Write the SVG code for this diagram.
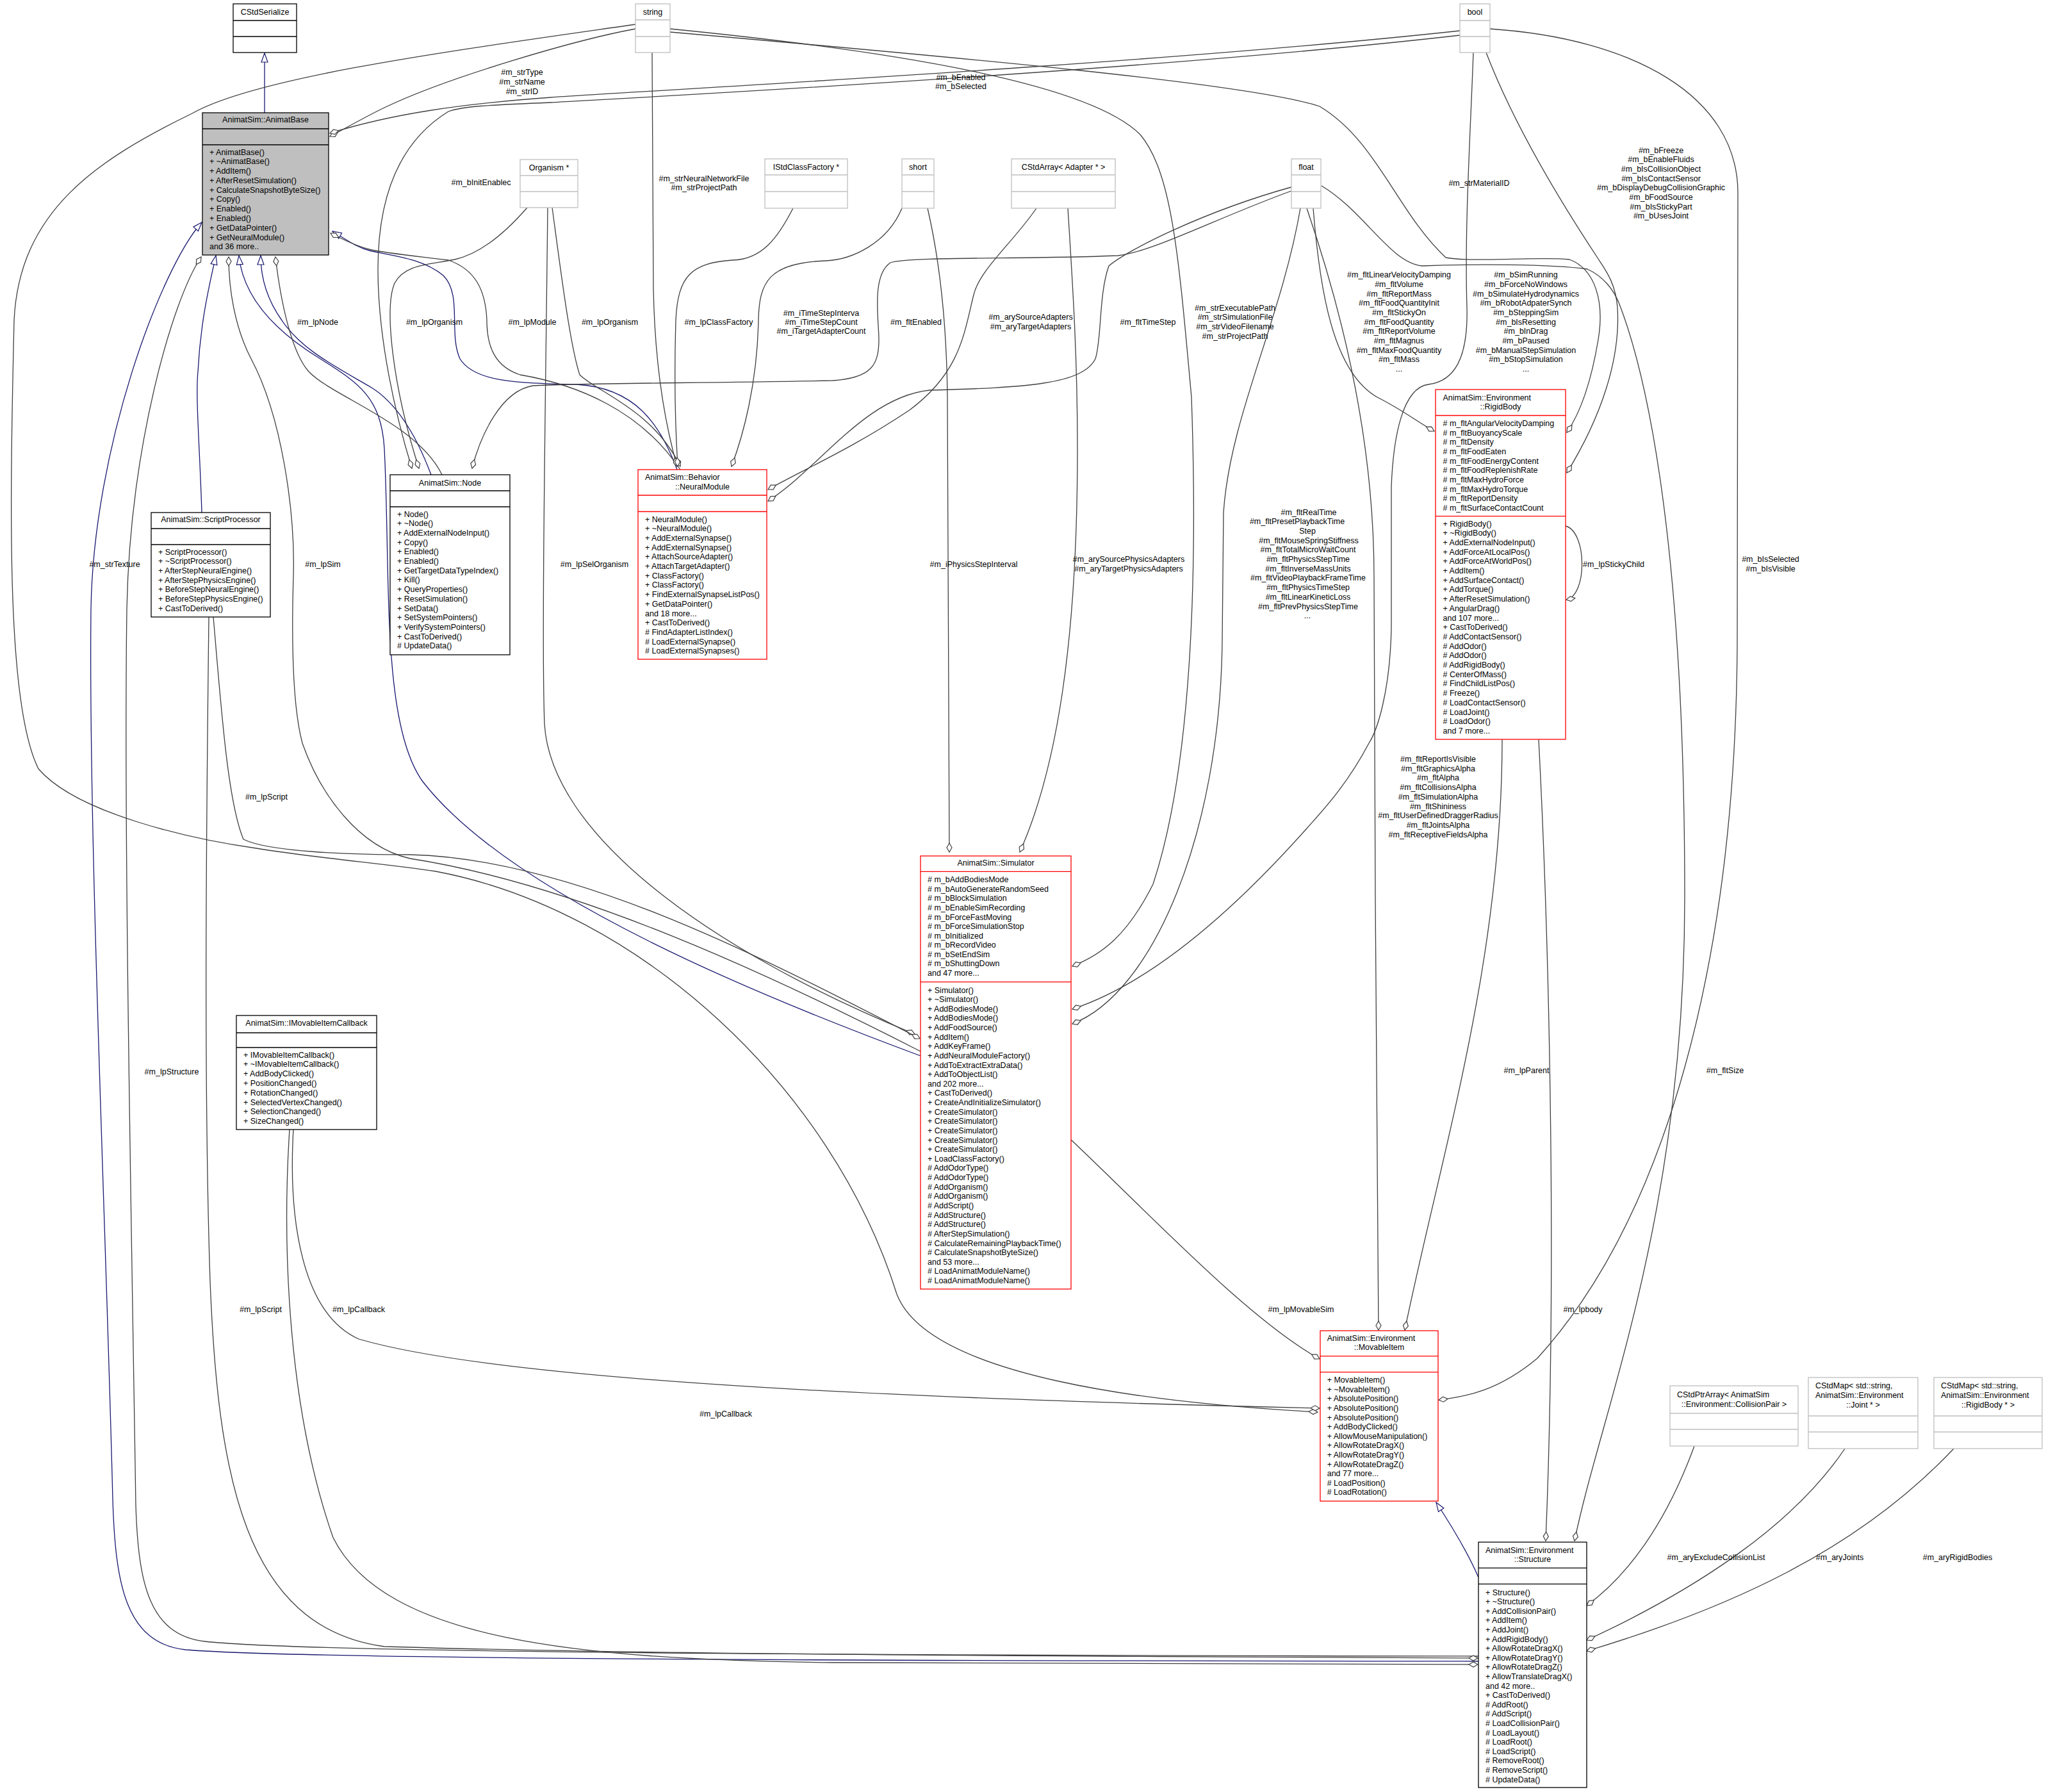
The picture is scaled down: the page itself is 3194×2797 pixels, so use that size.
<svg xmlns="http://www.w3.org/2000/svg" width="3194" height="2797" viewBox="0 0 3194 2797">
<style>
.bx{fill:#fff;stroke:#000;stroke-width:1.3}
.rd{fill:#fff;stroke:#ff0000;stroke-width:1.3}
.gy{fill:#fff;stroke:#bfbfbf;stroke-width:1.3}
.hl{fill:#bfbfbf;stroke:#000;stroke-width:1.3}
.sk{stroke:#000;stroke-width:1.3}
.sr{stroke:#ff0000;stroke-width:1.3}
.sg{stroke:#bfbfbf;stroke-width:1.3}
text{font-family:"Liberation Sans",Arial,sans-serif;font-size:12.5px;fill:#000}
.c{text-anchor:middle}
.e{fill:none;stroke:#404040;stroke-width:1.3;marker-end:url(#dia)}
.ep{fill:none;stroke:#404040;stroke-width:1.3}
.i{fill:none;stroke:#191970;stroke-width:1.3;marker-end:url(#tri)}
</style>
<defs>
<marker id="dia" markerUnits="userSpaceOnUse" markerWidth="16" markerHeight="10" viewBox="0 -5 16 10" refX="15" refY="0" orient="auto"><path d="M1,0 L8,-4 L15,0 L8,4 Z" fill="#fff" stroke="#404040" stroke-width="1.2"/></marker>
<marker id="tri" markerUnits="userSpaceOnUse" markerWidth="16" markerHeight="12" viewBox="0 -6 16 12" refX="15" refY="0" orient="auto"><path d="M1,-5 L15,0 L1,5 Z" fill="#fff" stroke="#191970" stroke-width="1.2"/></marker>
</defs>
<rect width="3194" height="2797" fill="#fff"/>

<g id="connectors">
<path class="i" d="M413,176 L413,83"/>
<path class="i" d="M315,800 C312,700 305,620 309,580 C313,500 328,440 337,399"/>
<path class="i" d="M2308,2593 C1600,2592 500,2592 290,2575 C195,2565 180,2470 176,2340 C165,1900 138,1300 142,950 C146,700 250,420 315,347"/>
<path class="i" d="M673,741 C650,680 620,630 580,605 C520,570 470,545 440,500 C415,465 407,430 407,399"/>
<path class="i" d="M1437,1648 C1200,1560 800,1400 660,1220 C595,1130 610,900 600,700 C595,620 560,598 500,560 C410,505 378,450 373,399"/>
<path class="i" d="M1057,733 C1030,660 990,605 900,600 C800,598 740,595 718,560 C700,520 722,460 692,430 C662,405 620,400 580,392 C555,386 538,372 519,361"/>
<path class="i" d="M2308,2462 C2290,2420 2265,2380 2242,2345"/>

<path class="e" d="M992,45 C900,62 700,120 600,168 C565,185 540,200 515,213"/>
<path class="e" d="M2279,48 C1800,100 1000,142 860,152 C720,162 610,178 515,208"/>
<path class="e" d="M2279,55 C1800,110 1000,152 860,160 C760,164 722,166 700,174 C622,222 590,310 590,420 C590,530 618,650 643,731"/>
<path class="e" d="M992,38 C700,80 400,120 300,177 C150,250 30,330 22,500 C15,800 10,1100 60,1200 C120,1270 300,1310 400,1324 C500,1340 600,1348 680,1360 C1000,1420 1300,1700 1400,2020 C1450,2150 1800,2190 2057,2204"/>
<path class="e" d="M2308,2585 C1600,2584 500,2582 320,2562 C232,2552 216,2470 212,2350 C205,1900 193,1300 198,950 C203,700 268,470 314,401"/>
<path class="e" d="M1437,1641 C1200,1520 900,1380 640,1340 C560,1322 500,1240 472,1160 C456,1100 455,1000 458,900 C461,800 440,650 392,560 C366,510 357,450 357,401"/>
<path class="e" d="M690,741 C650,660 520,620 482,580 C455,550 438,470 430,401"/>
<path class="e" d="M1062,733 C1000,640 900,600 812,585 C772,572 760,540 760,500 C758,450 740,420 700,406 C652,400 602,395 580,390 C556,384 536,374 516,364"/>
<path class="e" d="M823,324 C790,362 750,396 710,405 C670,413 632,412 616,442 C600,480 612,600 654,731"/>
<path class="e" d="M2016,298 C1900,340 1800,393 1745,399 C1600,405 1420,400 1390,410 C1360,430 1372,500 1372,530 C1372,570 1360,590 1300,594 C1100,598 900,598 832,602 C782,610 750,680 737,731"/>
<path class="e" d="M855,324 C852,600 845,1000 850,1130 C860,1300 1100,1480 1428,1614"/>
<path class="e" d="M862,324 C875,420 890,540 905,585 C932,612 1020,640 1062,728"/>
<path class="e" d="M1018,82 L1020,450 C1022,560 1035,650 1057,728"/>
<path class="e" d="M1238,325 C1215,370 1190,405 1144,406 C1080,410 1058,430 1055,500 C1052,600 1055,680 1058,728"/>
<path class="e" d="M1408,325 C1385,380 1330,405 1290,407 C1200,410 1185,440 1184,500 C1182,600 1160,680 1142,728"/>
<path class="e" d="M1448,325 C1470,420 1478,520 1479,620 C1480,900 1482,1200 1482,1330"/>
<path class="e" d="M1618,325 C1580,380 1530,420 1520,460 C1505,520 1500,580 1420,640 C1330,700 1260,730 1199,764"/>
<path class="e" d="M2016,292 C1880,330 1760,390 1731,415 C1715,460 1720,530 1710,560 C1690,600 1600,605 1451,609 C1350,620 1280,730 1199,782"/>
<path class="e" d="M1667,325 C1675,450 1682,560 1682,700 C1682,1000 1650,1200 1592,1330"/>
<path class="e" d="M1046,45 C1400,80 1700,130 1780,210 C1830,270 1840,400 1860,620 C1870,900 1860,1200 1800,1380 C1760,1460 1720,1490 1674,1508"/>
<path class="e" d="M2300,82 C2296,200 2286,350 2290,480 C2292,560 2270,595 2230,600 C2190,605 2175,680 2172,760 L2172,980 C2170,1080 2150,1140 2137,1160 C2100,1230 2060,1270 2040,1293 C1900,1450 1780,1540 1674,1575"/>
<path class="e" d="M2030,325 C2000,500 1920,650 1910,800 L1908,1000 C1905,1300 1800,1550 1674,1598"/>
<path class="e" d="M1046,50 C1500,90 1950,130 2060,166 C2150,220 2180,330 2257,402 C2300,410 2400,400 2450,405 C2490,420 2505,470 2495,530 C2485,590 2470,640 2446,675"/>
<path class="e" d="M2320,82 C2350,160 2400,260 2493,401 C2505,420 2522,440 2525,480 C2530,560 2500,650 2446,738"/>
<path class="e" d="M2050,325 C2060,450 2080,580 2150,620 C2190,640 2215,660 2239,673"/>
<path class="e" d="M2063,290 C2130,330 2170,410 2220,415 C2300,412 2420,412 2478,420 C2500,430 2520,450 2530,480 C2560,560 2630,800 2630,1400 C2630,1900 2500,2200 2458,2405"/>
<path class="e" d="M2040,325 C2100,500 2145,700 2145,900 L2147,1400 C2148,1700 2152,1900 2152,2076"/>
<path class="e" d="M2345,1154 C2345,1500 2250,1800 2193,2076"/>
<path class="e" d="M2402,1154 C2420,1500 2430,2000 2413,2405"/>
<path class="e" d="M2444,821 C2478,830 2478,930 2445,936"/>
<path class="e" d="M2326,45 C2550,60 2712,150 2713,300 L2712,1000 C2710,1500 2600,1900 2400,2120 C2340,2170 2290,2180 2246,2185"/>
<path class="e" d="M1672,1779 C1800,1900 1950,2060 2060,2121"/>
<path class="e" d="M458,1763 C450,1900 470,2050 560,2090 C800,2160 1500,2185 2060,2198"/>
<path class="e" d="M452,1763 C440,1950 450,2200 520,2400 C600,2560 900,2590 1300,2595 C1800,2598 2100,2597 2307,2598"/>
<path class="e" d="M326,963 C322,1300 318,1700 328,2000 C340,2300 380,2540 600,2570 C1100,2585 2000,2586 2307,2588"/>
<path class="e" d="M333,963 C345,1100 355,1250 380,1310 C420,1330 550,1334 640,1334 C900,1340 1200,1500 1436,1621"/>
<path class="e" d="M2645,2257 C2600,2380 2540,2460 2477,2506"/>
<path class="e" d="M2880,2261 C2800,2380 2650,2480 2477,2560"/>
<path class="e" d="M3050,2261 C2900,2420 2700,2510 2477,2577"/>

<text class="c" x="815" y="117">#m_strType</text>
<text class="c" x="815" y="132">#m_strName</text>
<text class="c" x="815" y="147">#m_strID</text>
<text class="c" x="1500" y="125">#m_bEnabled</text>
<text class="c" x="1500" y="139">#m_bSelected</text>
<text class="c" x="751" y="289">#m_bInitEnablec</text>
<text class="c" x="1099" y="283">#m_strNeuralNetworkFile</text>
<text class="c" x="1099" y="297">#m_strProjectPath</text>
<text class="c" x="496" y="507">#m_lpNode</text>
<text class="c" x="678" y="507">#m_lpOrganism</text>
<text class="c" x="831" y="507">#m_lpModule</text>
<text class="c" x="952" y="507">#m_lpOrganism</text>
<text class="c" x="1122" y="507">#m_lpClassFactory</text>
<text class="c" x="1282" y="493">#m_iTimeStepInterva</text>
<text class="c" x="1282" y="507">#m_iTimeStepCount</text>
<text class="c" x="1282" y="521">#m_iTargetAdapterCount</text>
<text class="c" x="1430" y="507">#m_fltEnabled</text>
<text class="c" x="1609" y="499">#m_arySourceAdapters</text>
<text class="c" x="1609" y="514">#m_aryTargetAdapters</text>
<text class="c" x="1792" y="507">#m_fltTimeStep</text>
<text class="c" x="1928" y="485">#m_strExecutablePath</text>
<text class="c" x="1928" y="499">#m_strSimulationFile</text>
<text class="c" x="1928" y="514">#m_strVideoFilename</text>
<text class="c" x="1928" y="529">#m_strProjectPath</text>
<text class="c" x="2309" y="290">#m_strMaterialID</text>
<text class="c" x="2593" y="239">#m_bFreeze</text>
<text class="c" x="2593" y="253">#m_bEnableFluids</text>
<text class="c" x="2593" y="268">#m_bIsCollisionObject</text>
<text class="c" x="2593" y="283">#m_bIsContactSensor</text>
<text class="c" x="2593" y="297">#m_bDisplayDebugCollisionGraphic</text>
<text class="c" x="2593" y="312">#m_bFoodSource</text>
<text class="c" x="2593" y="327">#m_bIsStickyPart</text>
<text class="c" x="2593" y="341">#m_bUsesJoint</text>
<text class="c" x="2382" y="433">#m_bSimRunning</text>
<text class="c" x="2382" y="448">#m_bForceNoWindows</text>
<text class="c" x="2382" y="463">#m_bSimulateHydrodynamics</text>
<text class="c" x="2382" y="477">#m_bRobotAdpaterSynch</text>
<text class="c" x="2382" y="492">#m_bSteppingSim</text>
<text class="c" x="2382" y="507">#m_bIsResetting</text>
<text class="c" x="2382" y="521">#m_bInDrag</text>
<text class="c" x="2382" y="536">#m_bPaused</text>
<text class="c" x="2382" y="551">#m_bManualStepSimulation</text>
<text class="c" x="2382" y="565">#m_bStopSimulation</text>
<text class="c" x="2382" y="580">...</text>
<text class="c" x="2184" y="433">#m_fltLinearVelocityDamping</text>
<text class="c" x="2184" y="448">#m_fltVolume</text>
<text class="c" x="2184" y="463">#m_fltReportMass</text>
<text class="c" x="2184" y="477">#m_fltFoodQuantityInit</text>
<text class="c" x="2184" y="492">#m_fltStickyOn</text>
<text class="c" x="2184" y="507">#m_fltFoodQuantity</text>
<text class="c" x="2184" y="521">#m_fltReportVolume</text>
<text class="c" x="2184" y="536">#m_fltMagnus</text>
<text class="c" x="2184" y="551">#m_fltMaxFoodQuantity</text>
<text class="c" x="2184" y="565">#m_fltMass</text>
<text class="c" x="2184" y="580">...</text>
<text class="c" x="2043" y="804">#m_fltRealTime</text>
<text class="c" x="2025" y="818">#m_fltPresetPlaybackTime</text>
<text class="c" x="2041" y="833">Step</text>
<text class="c" x="2043" y="848">#m_fltMouseSpringStiffness</text>
<text class="c" x="2042" y="862">#m_fltTotalMicroWaitCount</text>
<text class="c" x="2042" y="877">#m_fltPhysicsStepTime</text>
<text class="c" x="2042" y="892">#m_fltInverseMassUnits</text>
<text class="c" x="2042" y="906">#m_fltVideoPlaybackFrameTime</text>
<text class="c" x="2042" y="921">#m_fltPhysicsTimeStep</text>
<text class="c" x="2042" y="936">#m_fltLinearKineticLoss</text>
<text class="c" x="2042" y="951">#m_fltPrevPhysicsStepTime</text>
<text class="c" x="2041" y="965">...</text>
<text class="c" x="179" y="885">#m_strTexture</text>
<text class="c" x="504" y="885">#m_lpSim</text>
<text class="c" x="928" y="885">#m_lpSelOrganism</text>
<text class="c" x="1520" y="885">#m_iPhysicsStepInterval</text>
<text class="c" x="1762" y="877">#m_arySourcePhysicsAdapters</text>
<text class="c" x="1762" y="892">#m_aryTargetPhysicsAdapters</text>
<text class="c" x="2519" y="885">#m_lpStickyChild</text>
<text class="c" x="2764" y="877">#m_bIsSelected</text>
<text class="c" x="2764" y="892">#m_bIsVisible</text>
<text class="c" x="2245" y="1189">#m_fltReportIsVisible</text>
<text class="c" x="2245" y="1204">#m_fltGraphicsAlpha</text>
<text class="c" x="2245" y="1218">#m_fltAlpha</text>
<text class="c" x="2245" y="1233">#m_fltCollisionsAlpha</text>
<text class="c" x="2245" y="1248">#m_fltSimulationAlpha</text>
<text class="c" x="2245" y="1263">#m_fltShininess</text>
<text class="c" x="2245" y="1277">#m_fltUserDefinedDraggerRadius</text>
<text class="c" x="2245" y="1292">#m_fltJointsAlpha</text>
<text class="c" x="2245" y="1307">#m_fltReceptiveFieldsAlpha</text>
<text class="c" x="416" y="1248">#m_lpScript</text>
<text class="c" x="268" y="1677">#m_lpStructure</text>
<text class="c" x="2383" y="1675">#m_lpParent</text>
<text class="c" x="2693" y="1675">#m_fltSize</text>
<text class="c" x="407" y="2048">#m_lpScript</text>
<text class="c" x="560" y="2048">#m_lpCallback</text>
<text class="c" x="2031" y="2048">#m_lpMovableSim</text>
<text class="c" x="2471" y="2048">#m_lpbody</text>
<text class="c" x="1133" y="2211">#m_lpCallback</text>
<text class="c" x="2679" y="2435">#m_aryExcludeCollisionList</text>
<text class="c" x="2872" y="2435">#m_aryJoints</text>
<text class="c" x="3056" y="2435">#m_aryRigidBodies</text>
</g>

<g id="CStdSerialize">
<rect class="bx" x="364" y="6" width="99" height="76"/>
<line class="sk" x1="364" y1="32" x2="463" y2="32"/><line class="sk" x1="364" y1="57" x2="463" y2="57"/>
<text class="c" x="413.5" y="23">CStdSerialize</text>
</g>

<g id="AnimatBase">
<rect class="hl" x="316" y="176" width="197" height="222"/>
<line class="sk" x1="316" y1="201" x2="513" y2="201"/><line class="sk" x1="316" y1="226" x2="513" y2="226"/>
<text class="c" x="414.5" y="191">AnimatSim::AnimatBase</text>
<text x="327" y="241.6"><tspan x="327" dy="0">+ AnimatBase()</tspan><tspan x="327" dy="14.77">+ ~AnimatBase()</tspan><tspan x="327" dy="14.77">+ AddItem()</tspan><tspan x="327" dy="14.77">+ AfterResetSimulation()</tspan><tspan x="327" dy="14.77">+ CalculateSnapshotByteSize()</tspan><tspan x="327" dy="14.77">+ Copy()</tspan><tspan x="327" dy="14.77">+ Enabled()</tspan><tspan x="327" dy="14.77">+ Enabled()</tspan><tspan x="327" dy="14.77">+ GetDataPointer()</tspan><tspan x="327" dy="14.77">+ GetNeuralModule()</tspan><tspan x="327" dy="14.77">and 36 more..</tspan></text>
</g>

<g id="string">
<rect class="gy" x="992" y="6" width="54" height="76"/>
<line class="sg" x1="992" y1="31" x2="1046" y2="31"/><line class="sg" x1="992" y1="57" x2="1046" y2="57"/>
<text class="c" x="1019" y="23">string</text>
</g>

<g id="bool">
<rect class="gy" x="2279" y="6" width="47" height="76"/>
<line class="sg" x1="2279" y1="32" x2="2326" y2="32"/><line class="sg" x1="2279" y1="57" x2="2326" y2="57"/>
<text class="c" x="2302.5" y="23">bool</text>
</g>

<g id="Organism">
<rect class="gy" x="812" y="249" width="90" height="75"/>
<line class="sg" x1="812" y1="274" x2="902" y2="274"/><line class="sg" x1="812" y1="299" x2="902" y2="299"/>
<text class="c" x="857" y="266">Organism *</text>
</g>

<g id="IStdClassFactory">
<rect class="gy" x="1194" y="248" width="129" height="77"/>
<line class="sg" x1="1194" y1="273" x2="1323" y2="273"/><line class="sg" x1="1194" y1="299" x2="1323" y2="299"/>
<text class="c" x="1258.5" y="265">IStdClassFactory *</text>
</g>

<g id="short">
<rect class="gy" x="1408" y="248" width="50" height="77"/>
<line class="sg" x1="1408" y1="273" x2="1458" y2="273"/><line class="sg" x1="1408" y1="299" x2="1458" y2="299"/>
<text class="c" x="1433" y="265">short</text>
</g>

<g id="CStdArrayAdapter">
<rect class="gy" x="1579" y="248" width="162" height="77"/>
<line class="sg" x1="1579" y1="273" x2="1741" y2="273"/><line class="sg" x1="1579" y1="299" x2="1741" y2="299"/>
<text class="c" x="1660" y="265">CStdArray&lt; Adapter * &gt;</text>
</g>

<g id="float">
<rect class="gy" x="2016" y="248" width="46" height="77"/>
<line class="sg" x1="2016" y1="273" x2="2062" y2="273"/><line class="sg" x1="2016" y1="299" x2="2062" y2="299"/>
<text class="c" x="2039" y="265">float</text>
</g>

<g id="Node">
<rect class="bx" x="609" y="741" width="187" height="281"/>
<line class="sk" x1="609" y1="766" x2="796" y2="766"/><line class="sk" x1="609" y1="791" x2="796" y2="791"/>
<text class="c" x="702.5" y="757.5">AnimatSim::Node</text>
<text x="620" y="806.5"><tspan x="620" dy="0">+ Node()</tspan><tspan x="620" dy="14.7">+ ~Node()</tspan><tspan x="620" dy="14.7">+ AddExternalNodeInput()</tspan><tspan x="620" dy="14.7">+ Copy()</tspan><tspan x="620" dy="14.7">+ Enabled()</tspan><tspan x="620" dy="14.7">+ Enabled()</tspan><tspan x="620" dy="14.7">+ GetTargetDataTypeIndex()</tspan><tspan x="620" dy="14.7">+ Kill()</tspan><tspan x="620" dy="14.7">+ QueryProperties()</tspan><tspan x="620" dy="14.7">+ ResetSimulation()</tspan><tspan x="620" dy="14.7">+ SetData()</tspan><tspan x="620" dy="14.7">+ SetSystemPointers()</tspan><tspan x="620" dy="14.7">+ VerifySystemPointers()</tspan><tspan x="620" dy="14.7">+ CastToDerived()</tspan><tspan x="620" dy="14.7"># UpdateData()</tspan></text>
</g>

<g id="NeuralModule">
<rect class="rd" x="996" y="733" width="201" height="296"/>
<line class="sr" x1="996" y1="773" x2="1197" y2="773"/><line class="sr" x1="996" y1="798.5" x2="1197" y2="798.5"/>
<text x="1007" y="748.5">AnimatSim::Behavior</text>
<text class="c" x="1096.5" y="763.5">::NeuralModule</text>
<text x="1007" y="814.5"><tspan x="1007" dy="0">+ NeuralModule()</tspan><tspan x="1007" dy="14.7">+ ~NeuralModule()</tspan><tspan x="1007" dy="14.7">+ AddExternalSynapse()</tspan><tspan x="1007" dy="14.7">+ AddExternalSynapse()</tspan><tspan x="1007" dy="14.7">+ AttachSourceAdapter()</tspan><tspan x="1007" dy="14.7">+ AttachTargetAdapter()</tspan><tspan x="1007" dy="14.7">+ ClassFactory()</tspan><tspan x="1007" dy="14.7">+ ClassFactory()</tspan><tspan x="1007" dy="14.7">+ FindExternalSynapseListPos()</tspan><tspan x="1007" dy="14.7">+ GetDataPointer()</tspan><tspan x="1007" dy="14.7">and 18 more...</tspan><tspan x="1007" dy="14.7">+ CastToDerived()</tspan><tspan x="1007" dy="14.7"># FindAdapterListIndex()</tspan><tspan x="1007" dy="14.7"># LoadExternalSynapse()</tspan><tspan x="1007" dy="14.7"># LoadExternalSynapses()</tspan></text>
</g>

<g id="ScriptProcessor">
<rect class="bx" x="236" y="800" width="186" height="163"/>
<line class="sk" x1="236" y1="825" x2="422" y2="825"/><line class="sk" x1="236" y1="850" x2="422" y2="850"/>
<text class="c" x="329" y="814.5">AnimatSim::ScriptProcessor</text>
<text x="247" y="865.6"><tspan x="247" dy="0">+ ScriptProcessor()</tspan><tspan x="247" dy="14.65">+ ~ScriptProcessor()</tspan><tspan x="247" dy="14.65">+ AfterStepNeuralEngine()</tspan><tspan x="247" dy="14.65">+ AfterStepPhysicsEngine()</tspan><tspan x="247" dy="14.65">+ BeforeStepNeuralEngine()</tspan><tspan x="247" dy="14.65">+ BeforeStepPhysicsEngine()</tspan><tspan x="247" dy="14.65">+ CastToDerived()</tspan></text>
</g>

<g id="IMovableItemCallback">
<rect class="bx" x="369" y="1585" width="219" height="178"/>
<line class="sk" x1="369" y1="1612" x2="588" y2="1612"/><line class="sk" x1="369" y1="1635" x2="588" y2="1635"/>
<text class="c" x="478.5" y="1600.5">AnimatSim::IMovableItemCallback</text>
<text x="380" y="1650.5"><tspan x="380" dy="0">+ IMovableItemCallback()</tspan><tspan x="380" dy="14.8">+ ~IMovableItemCallback()</tspan><tspan x="380" dy="14.8">+ AddBodyClicked()</tspan><tspan x="380" dy="14.8">+ PositionChanged()</tspan><tspan x="380" dy="14.8">+ RotationChanged()</tspan><tspan x="380" dy="14.8">+ SelectedVertexChanged()</tspan><tspan x="380" dy="14.8">+ SelectionChanged()</tspan><tspan x="380" dy="14.8">+ SizeChanged()</tspan></text>
</g>

<g id="Simulator">
<rect class="rd" x="1437" y="1336" width="235" height="676"/>
<line class="sr" x1="1437" y1="1360.4" x2="1672" y2="1360.4"/><line class="sr" x1="1437" y1="1532.6" x2="1672" y2="1532.6"/>
<text class="c" x="1554.5" y="1351">AnimatSim::Simulator</text>
<text x="1448" y="1377.3"><tspan x="1448" dy="0"># m_bAddBodiesMode</tspan><tspan x="1448" dy="14.55"># m_bAutoGenerateRandomSeed</tspan><tspan x="1448" dy="14.55"># m_bBlockSimulation</tspan><tspan x="1448" dy="14.55"># m_bEnableSimRecording</tspan><tspan x="1448" dy="14.55"># m_bForceFastMoving</tspan><tspan x="1448" dy="14.55"># m_bForceSimulationStop</tspan><tspan x="1448" dy="14.55"># m_bInitialized</tspan><tspan x="1448" dy="14.55"># m_bRecordVideo</tspan><tspan x="1448" dy="14.55"># m_bSetEndSim</tspan><tspan x="1448" dy="14.55"># m_bShuttingDown</tspan><tspan x="1448" dy="14.55">and 47 more...</tspan></text>
<text x="1448" y="1549.5"><tspan x="1448" dy="0">+ Simulator()</tspan><tspan x="1448" dy="14.63">+ ~Simulator()</tspan><tspan x="1448" dy="14.63">+ AddBodiesMode()</tspan><tspan x="1448" dy="14.63">+ AddBodiesMode()</tspan><tspan x="1448" dy="14.63">+ AddFoodSource()</tspan><tspan x="1448" dy="14.63">+ AddItem()</tspan><tspan x="1448" dy="14.63">+ AddKeyFrame()</tspan><tspan x="1448" dy="14.63">+ AddNeuralModuleFactory()</tspan><tspan x="1448" dy="14.63">+ AddToExtractExtraData()</tspan><tspan x="1448" dy="14.63">+ AddToObjectList()</tspan><tspan x="1448" dy="14.63">and 202 more...</tspan><tspan x="1448" dy="14.63">+ CastToDerived()</tspan><tspan x="1448" dy="14.63">+ CreateAndInitializeSimulator()</tspan><tspan x="1448" dy="14.63">+ CreateSimulator()</tspan><tspan x="1448" dy="14.63">+ CreateSimulator()</tspan><tspan x="1448" dy="14.63">+ CreateSimulator()</tspan><tspan x="1448" dy="14.63">+ CreateSimulator()</tspan><tspan x="1448" dy="14.63">+ CreateSimulator()</tspan><tspan x="1448" dy="14.63">+ LoadClassFactory()</tspan><tspan x="1448" dy="14.63"># AddOdorType()</tspan><tspan x="1448" dy="14.63"># AddOdorType()</tspan><tspan x="1448" dy="14.63"># AddOrganism()</tspan><tspan x="1448" dy="14.63"># AddOrganism()</tspan><tspan x="1448" dy="14.63"># AddScript()</tspan><tspan x="1448" dy="14.63"># AddStructure()</tspan><tspan x="1448" dy="14.63"># AddStructure()</tspan><tspan x="1448" dy="14.63"># AfterStepSimulation()</tspan><tspan x="1448" dy="14.63"># CalculateRemainingPlaybackTime()</tspan><tspan x="1448" dy="14.63"># CalculateSnapshotByteSize()</tspan><tspan x="1448" dy="14.63">and 53 more...</tspan><tspan x="1448" dy="14.63"># LoadAnimatModuleName()</tspan><tspan x="1448" dy="14.63"># LoadAnimatModuleName()</tspan></text>
</g>

<g id="RigidBody">
<rect class="rd" x="2241" y="608" width="203" height="546"/>
<line class="sr" x1="2241" y1="648.5" x2="2444" y2="648.5"/><line class="sr" x1="2241" y1="805.7" x2="2444" y2="805.7"/>
<text x="2252.5" y="625.2">AnimatSim::Environment</text>
<text class="c" x="2342.5" y="639.3">::RigidBody</text>
<text x="2252.5" y="664.8"><tspan x="2252.5" dy="0"># m_fltAngularVelocityDamping</tspan><tspan x="2252.5" dy="14.7"># m_fltBuoyancyScale</tspan><tspan x="2252.5" dy="14.7"># m_fltDensity</tspan><tspan x="2252.5" dy="14.7"># m_fltFoodEaten</tspan><tspan x="2252.5" dy="14.7"># m_fltFoodEnergyContent</tspan><tspan x="2252.5" dy="14.7"># m_fltFoodReplenishRate</tspan><tspan x="2252.5" dy="14.7"># m_fltMaxHydroForce</tspan><tspan x="2252.5" dy="14.7"># m_fltMaxHydroTorque</tspan><tspan x="2252.5" dy="14.7"># m_fltReportDensity</tspan><tspan x="2252.5" dy="14.7"># m_fltSurfaceContactCount</tspan></text>
<text x="2252.5" y="821.5"><tspan x="2252.5" dy="0">+ RigidBody()</tspan><tspan x="2252.5" dy="14.7">+ ~RigidBody()</tspan><tspan x="2252.5" dy="14.7">+ AddExternalNodeInput()</tspan><tspan x="2252.5" dy="14.7">+ AddForceAtLocalPos()</tspan><tspan x="2252.5" dy="14.7">+ AddForceAtWorldPos()</tspan><tspan x="2252.5" dy="14.7">+ AddItem()</tspan><tspan x="2252.5" dy="14.7">+ AddSurfaceContact()</tspan><tspan x="2252.5" dy="14.7">+ AddTorque()</tspan><tspan x="2252.5" dy="14.7">+ AfterResetSimulation()</tspan><tspan x="2252.5" dy="14.7">+ AngularDrag()</tspan><tspan x="2252.5" dy="14.7">and 107 more...</tspan><tspan x="2252.5" dy="14.7">+ CastToDerived()</tspan><tspan x="2252.5" dy="14.7"># AddContactSensor()</tspan><tspan x="2252.5" dy="14.7"># AddOdor()</tspan><tspan x="2252.5" dy="14.7"># AddOdor()</tspan><tspan x="2252.5" dy="14.7"># AddRigidBody()</tspan><tspan x="2252.5" dy="14.7"># CenterOfMass()</tspan><tspan x="2252.5" dy="14.7"># FindChildListPos()</tspan><tspan x="2252.5" dy="14.7"># Freeze()</tspan><tspan x="2252.5" dy="14.7"># LoadContactSensor()</tspan><tspan x="2252.5" dy="14.7"># LoadJoint()</tspan><tspan x="2252.5" dy="14.7"># LoadOdor()</tspan><tspan x="2252.5" dy="14.7">and 7 more...</tspan></text>
</g>

<g id="MovableItem">
<rect class="rd" x="2061" y="2077" width="184" height="266"/>
<line class="sr" x1="2061" y1="2116.7" x2="2245" y2="2116.7"/><line class="sr" x1="2061" y1="2141.7" x2="2245" y2="2141.7"/>
<text x="2071.7" y="2092.8">AnimatSim::Environment</text>
<text class="c" x="2153" y="2107.2">::MovableItem</text>
<text x="2071.7" y="2158.2"><tspan x="2071.7" dy="0">+ MovableItem()</tspan><tspan x="2071.7" dy="14.6">+ ~MovableItem()</tspan><tspan x="2071.7" dy="14.6">+ AbsolutePosition()</tspan><tspan x="2071.7" dy="14.6">+ AbsolutePosition()</tspan><tspan x="2071.7" dy="14.6">+ AbsolutePosition()</tspan><tspan x="2071.7" dy="14.6">+ AddBodyClicked()</tspan><tspan x="2071.7" dy="14.6">+ AllowMouseManipulation()</tspan><tspan x="2071.7" dy="14.6">+ AllowRotateDragX()</tspan><tspan x="2071.7" dy="14.6">+ AllowRotateDragY()</tspan><tspan x="2071.7" dy="14.6">+ AllowRotateDragZ()</tspan><tspan x="2071.7" dy="14.6">and 77 more...</tspan><tspan x="2071.7" dy="14.6"># LoadPosition()</tspan><tspan x="2071.7" dy="14.6"># LoadRotation()</tspan></text>
</g>

<g id="Structure">
<rect class="bx" x="2308" y="2407" width="169" height="383"/>
<line class="sk" x1="2308" y1="2447.3" x2="2477" y2="2447.3"/><line class="sk" x1="2308" y1="2472.3" x2="2477" y2="2472.3"/>
<text x="2319" y="2423.5">AnimatSim::Environment</text>
<text class="c" x="2392.5" y="2437.8">::Structure</text>
<text x="2319" y="2489.5"><tspan x="2319" dy="0">+ Structure()</tspan><tspan x="2319" dy="14.6">+ ~Structure()</tspan><tspan x="2319" dy="14.6">+ AddCollisionPair()</tspan><tspan x="2319" dy="14.6">+ AddItem()</tspan><tspan x="2319" dy="14.6">+ AddJoint()</tspan><tspan x="2319" dy="14.6">+ AddRigidBody()</tspan><tspan x="2319" dy="14.6">+ AllowRotateDragX()</tspan><tspan x="2319" dy="14.6">+ AllowRotateDragY()</tspan><tspan x="2319" dy="14.6">+ AllowRotateDragZ()</tspan><tspan x="2319" dy="14.6">+ AllowTranslateDragX()</tspan><tspan x="2319" dy="14.6">and 42 more..</tspan><tspan x="2319" dy="14.6">+ CastToDerived()</tspan><tspan x="2319" dy="14.6"># AddRoot()</tspan><tspan x="2319" dy="14.6"># AddScript()</tspan><tspan x="2319" dy="14.6"># LoadCollisionPair()</tspan><tspan x="2319" dy="14.6"># LoadLayout()</tspan><tspan x="2319" dy="14.6"># LoadRoot()</tspan><tspan x="2319" dy="14.6"># LoadScript()</tspan><tspan x="2319" dy="14.6"># RemoveRoot()</tspan><tspan x="2319" dy="14.6"># RemoveScript()</tspan><tspan x="2319" dy="14.6"># UpdateData()</tspan></text>
</g>

<g id="CStdPtrArrayCollisionPair">
<rect class="gy" x="2607" y="2163" width="200" height="94"/>
<line class="sg" x1="2607" y1="2206" x2="2807" y2="2206"/><line class="sg" x1="2607" y1="2231" x2="2807" y2="2231"/>
<text x="2618" y="2180.5">CStdPtrArray&lt; AnimatSim</text>
<text class="c" x="2707" y="2195.5">::Environment::CollisionPair &gt;</text>
</g>

<g id="CStdMapJoint">
<rect class="gy" x="2823" y="2150" width="171" height="111"/>
<line class="sg" x1="2823" y1="2210" x2="2994" y2="2210"/><line class="sg" x1="2823" y1="2235" x2="2994" y2="2235"/>
<text x="2834" y="2167">CStdMap&lt; std::string,</text>
<text x="2834" y="2182">AnimatSim::Environment</text>
<text class="c" x="2908.5" y="2197">::Joint * &gt;</text>
</g>

<g id="CStdMapRigidBody">
<rect class="gy" x="3019" y="2150" width="169" height="111"/>
<line class="sg" x1="3019" y1="2210" x2="3188" y2="2210"/><line class="sg" x1="3019" y1="2235" x2="3188" y2="2235"/>
<text x="3030" y="2167">CStdMap&lt; std::string,</text>
<text x="3030" y="2182">AnimatSim::Environment</text>
<text class="c" x="3103.5" y="2197">::RigidBody * &gt;</text>
</g>
</svg>
